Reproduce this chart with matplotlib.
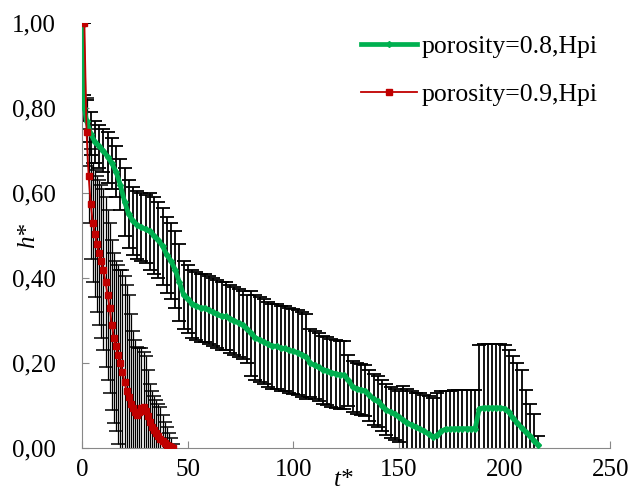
import matplotlib.pyplot as plt
from matplotlib.ticker import FuncFormatter

# porosity = 0.8 (green), t* sampled every 2 units
t_green = [0, 1, 2, 4, 6, 8, 10, 12, 14, 16, 18, 20, 22, 24, 26, 28, 30, 32, 34, 36, 38,
           40, 42, 44, 46, 48, 50, 52, 54, 56, 58, 60, 62, 64, 66, 68, 70, 72, 74, 76, 78,
           80, 82, 84, 86, 88, 90, 92, 94, 96, 98, 100, 102, 104, 106, 108, 110, 112, 114,
           116, 118, 120, 122, 124, 126, 128, 130, 132, 134, 136, 138, 140, 142, 144, 146,
           148, 150, 152, 154, 156, 158, 160, 162, 164, 166, 168, 170, 172, 174, 176, 178,
           180, 182, 184, 186, 188, 190, 192, 194, 196, 198, 200, 202, 204, 206, 208, 210,
           212, 214, 216]
h_green = [1.00, 0.80, 0.77, 0.74, 0.72, 0.71, 0.70, 0.685, 0.67, 0.65, 0.62, 0.58, 0.55,
           0.535, 0.525, 0.52, 0.515, 0.51, 0.50, 0.49, 0.475, 0.455, 0.44, 0.42, 0.39,
           0.36, 0.35, 0.34, 0.335, 0.33, 0.33, 0.325, 0.32, 0.315, 0.31, 0.31, 0.305,
           0.30, 0.295, 0.29, 0.28, 0.27, 0.26, 0.255, 0.25, 0.245, 0.24, 0.24, 0.235,
           0.235, 0.23, 0.228, 0.225, 0.22, 0.215, 0.20, 0.195, 0.19, 0.185, 0.182, 0.178,
           0.175, 0.173, 0.172, 0.16, 0.145, 0.14, 0.137, 0.135, 0.125, 0.115, 0.11, 0.10,
           0.09, 0.085, 0.08, 0.074, 0.066, 0.06, 0.054, 0.05, 0.045, 0.04, 0.033, 0.027,
           0.03, 0.04, 0.045, 0.045, 0.046, 0.046, 0.046, 0.046, 0.046, 0.046, 0.093,
           0.095, 0.095, 0.095, 0.095, 0.095, 0.093, 0.085, 0.07, 0.06, 0.048, 0.038,
           0.028, 0.018, 0.008]
err_green = [0.0, 0.03, 0.05, 0.05, 0.05, 0.05, 0.05, 0.06, 0.06, 0.06, 0.06, 0.08, 0.08,
             0.08, 0.08, 0.08, 0.08, 0.09, 0.09, 0.09, 0.09, 0.09, 0.09, 0.09, 0.09, 0.08,
             0.08, 0.08, 0.08, 0.08, 0.08, 0.08, 0.08, 0.08, 0.08, 0.08, 0.08, 0.08, 0.08,
             0.08, 0.08, 0.10, 0.10, 0.10, 0.10, 0.10, 0.10, 0.10, 0.10, 0.10, 0.10, 0.10,
             0.10, 0.10, 0.10, 0.08, 0.08, 0.08, 0.08, 0.08, 0.08, 0.08, 0.08, 0.08, 0.06,
             0.06, 0.06, 0.06, 0.06, 0.06, 0.06, 0.06, 0.06, 0.06, 0.06, 0.06, 0.06, 0.08,
             0.08, 0.08, 0.08, 0.085, 0.085, 0.09, 0.09, 0.10, 0.095, 0.09, 0.09, 0.09, 0.09,
             0.09, 0.09, 0.09, 0.09, 0.15, 0.15, 0.15, 0.15, 0.15, 0.15, 0.15, 0.145, 0.146,
             0.14, 0.135, 0.10, 0.077, 0.062, 0.02]

# porosity = 0.9 (red), t* every unit
t_red = [1, 2, 3, 4, 5, 6, 7, 8, 9, 10, 11, 12, 13, 14, 15, 16, 17, 18, 19, 20, 21, 22,
         23, 24, 25, 26, 27, 28, 29, 30, 31, 32, 33, 34, 35, 36, 37, 38, 39, 40, 41, 42, 43]
h_red = [1.00, 0.745, 0.64, 0.575, 0.53, 0.505, 0.48, 0.46, 0.44, 0.42, 0.39, 0.36, 0.33,
         0.29, 0.26, 0.24, 0.22, 0.20, 0.18, 0.155, 0.135, 0.12, 0.105, 0.095, 0.085,
         0.078, 0.085, 0.095, 0.097, 0.088, 0.075, 0.062, 0.05, 0.042, 0.035, 0.028,
         0.022, 0.017, 0.012, 0.008, 0.005, 0.003, 0.0]
err_red = [0.0, 0.08, 0.11, 0.13, 0.14, 0.15, 0.16, 0.17, 0.18, 0.19, 0.20, 0.20, 0.20,
           0.20, 0.20, 0.20, 0.21, 0.22, 0.24, 0.25, 0.25, 0.24, 0.21, 0.18, 0.17, 0.16,
           0.15, 0.14, 0.13, 0.13, 0.11, 0.09, 0.085, 0.08, 0.078, 0.076, 0.075, 0.06,
           0.05, 0.042, 0.03, 0.02, 0.01]

plt.rcParams['font.family'] = 'Liberation Serif'

fig = plt.figure(figsize=(6.33, 4.92), dpi=100)
ax = fig.add_axes([0.13, 0.089, 0.834, 0.864])

ax.errorbar(t_green, h_green, yerr=err_green, fmt='none', ecolor='black',
            elinewidth=1.3, capsize=5, capthick=1.3, zorder=2)
ax.errorbar(t_red, h_red, yerr=err_red, fmt='none', ecolor='black',
            elinewidth=0.9, capsize=5, capthick=1.1, zorder=2)
ax.plot(t_green, h_green, color='#00b050', lw=3.4, marker='D', ms=3,
        label='porosity=0.8,Hpi', zorder=3)
ax.plot(t_green[:1], h_green[:1], color='#00b050', marker='o', ms=6, ls='none', zorder=3)
ax.plot(t_red, h_red, color='#c00000', lw=1.3, marker='s', ms=5,
        label='porosity=0.9,Hpi', zorder=4)

ax.set_xlim(0, 250)
ax.set_ylim(0, 1.0)
ax.set_xticks([0, 50, 100, 150, 200, 250])
ax.set_yticks([0, 0.2, 0.4, 0.6, 0.8, 1.0])
ax.yaxis.set_major_formatter(FuncFormatter(lambda v, p: f'{v:.2f}'.replace('.', ',')))
ax.tick_params(axis='both', direction='in', length=5, color='#888888',
               labelsize=18, pad=8)
ax.tick_params(axis='y', pad=19)
for s in ['top', 'right']:
    ax.spines[s].set_visible(False)
for s in ['left', 'bottom']:
    ax.spines[s].set_color('#888888')

ax.set_ylabel('h*', fontsize=18, style='italic')
ax.yaxis.set_label_coords(-0.082, 0.5)
ax.text(124, -0.075, 't*', fontsize=18, style='italic', ha='center', va='center',
        transform=ax.transData, clip_on=False)

ax.legend(loc='upper right', bbox_to_anchor=(0.98, 0.975), bbox_transform=fig.transFigure,
          frameon=False, fontsize=18.5, handlelength=2.2, labelspacing=0.95,
          handletextpad=0.15)

fig.savefig('out.png', dpi=100)
